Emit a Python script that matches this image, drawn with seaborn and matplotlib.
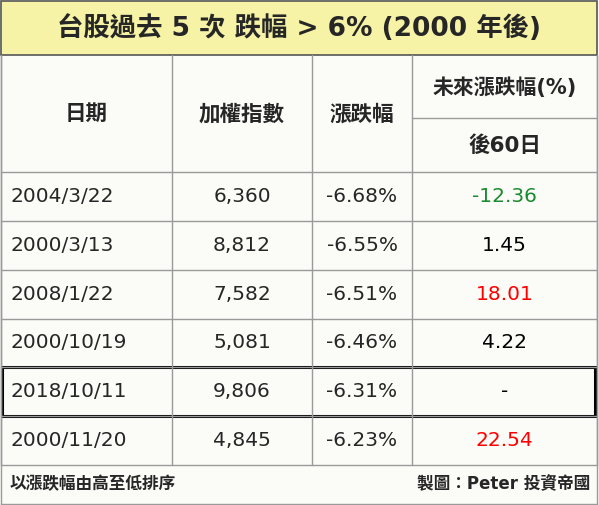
import matplotlib
matplotlib.use("Agg")
import matplotlib.pyplot as plt
import seaborn as sns
from matplotlib.patches import Rectangle

sns.set_theme(style="white")
plt.rcParams['font.family'] = ['DejaVu Sans', 'Noto Sans CJK TC']

title = "台股過去 5 次 跌幅 > 6% (2000 年後)"
dates = ["2004/3/22", "2000/3/13", "2008/1/22", "2000/10/19", "2018/10/11", "2000/11/20"]
index_vals = ["6,360", "8,812", "7,582", "5,081", "9,806", "4,845"]
changes = ["-6.68%", "-6.55%", "-6.51%", "-6.46%", "-6.31%", "-6.23%"]
after60 = ["-12.36", "1.45", "18.01", "4.22", "-", "22.54"]
after_colors = ["#1a8a2e", "black", "#ff0000", "black", "black", "#ff0000"]
headers = ["日期", "加權指數", "漲跌幅"]
header_future = "未來漲跌幅(%)"
header_60 = "後60日"
footer_left = "以漲跌幅由高至低排序"
footer_right = "製圖：Peter 投資帝國"

W, H = 599, 505
fig = plt.figure(figsize=(W/100, H/100), dpi=100)
ax = fig.add_axes([0, 0, 1, 1])
ax.set_xlim(0, W); ax.set_ylim(H, 0); ax.axis("off")
fig.patch.set_facecolor("#fbfbf7")

ax.add_patch(Rectangle((1, 1), 596, 54, facecolor="#f6f2a6", edgecolor="#555", lw=1.2))
ax.text(299, 29, title, ha="center", va="center", fontsize=19, fontweight="bold")

cols = [1, 172, 312, 412, 597]
rows = [172, 221, 270, 319, 367, 416, 465]
grey = "#9a9a9a"
for x in cols:
    ax.plot([x, x], [55, 465], color=grey, lw=1)
ax.plot([412, 597], [118, 118], color=grey, lw=1)
for y in rows:
    ax.plot([1, 597], [y, y], color=grey, lw=1)
ax.plot([1, 1], [55, 505], color=grey, lw=1)
ax.plot([597, 597], [55, 505], color=grey, lw=1)
ax.plot([1, 597], [504, 504], color=grey, lw=1)

centers = [(cols[i] + cols[i+1]) / 2 for i in range(4)]
for i, h in enumerate(headers):
    ax.text(centers[i], 114, h, ha="center", va="center", fontsize=15.5, fontweight="bold")
ax.text(centers[3], 88, header_future, ha="center", va="center", fontsize=15, fontweight="bold")
ax.text(centers[3], 146, header_60, ha="center", va="center", fontsize=15.5, fontweight="bold")

for r in range(len(dates)):
    yc = (rows[r] + rows[r+1]) / 2
    ax.text(10, yc, dates[r], ha="left", va="center", fontsize=14.5)
    ax.text(centers[1], yc, index_vals[r], ha="center", va="center", fontsize=14.5)
    ax.text(centers[2], yc, changes[r], ha="center", va="center", fontsize=14.5)
    ax.text(centers[3], yc, after60[r], ha="center", va="center", fontsize=14.5, color=after_colors[r])

ax.add_patch(Rectangle((2, rows[4]), 593, rows[5]-rows[4], fill=False, edgecolor="black", lw=2.2))

ax.text(10, 484, footer_left, ha="left", va="center", fontsize=12, fontweight="bold")
ax.text(590, 484, footer_right, ha="right", va="center", fontsize=12, fontweight="bold")

fig.savefig("out.png", dpi=100)
